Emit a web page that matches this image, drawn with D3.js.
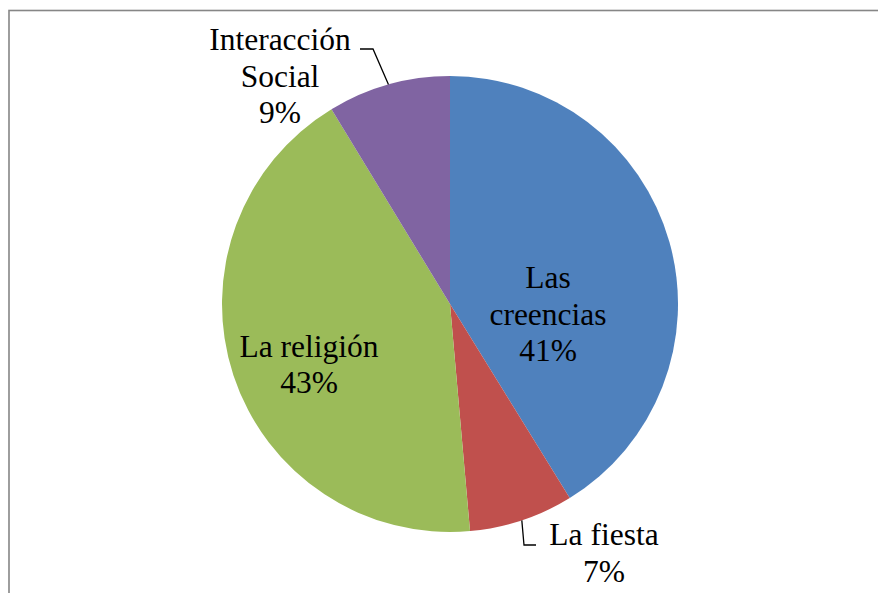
<!DOCTYPE html>
<html>
<head>
<meta charset="utf-8">
<script src="https://cdn.jsdelivr.net/npm/d3@7"></script>
<style>
  body { margin: 0; background: #fff; }
</style>
</head>
<body>
<div id="viz"></div>
<script>
// slices, clockwise from 12 o'clock
const categories = ['Las creencias', 'La fiesta', 'La religión', 'Interacción Social'];
const values = [41.2, 7.4, 42.7, 8.7]; // percent
const colors = ['#4F81BD', '#C0504D', '#9BBB59', '#8064A2'];
// label text lines (percent appended below)
const labelLines = [['Las', 'creencias'], ['La fiesta'], ['La religión'], ['Interacción', 'Social']];

const W = 878, H = 593;
const cx = 450, cy = 304, r = 228;
const lh = 36.5; // line height of labels

window.onload = () => draw();

function draw() {
    const svg = d3.select('#viz').append('svg')
	.attr('width', W)
	.attr('height', H);

    // chart frame (runs off the right and bottom edges)
    svg.append('rect')
	.attr('x', 9)
	.attr('y', 10.5)
	.attr('width', 900)
	.attr('height', 620)
	.attr('fill', 'none')
	.attr('stroke', '#868686')
	.attr('stroke-width', 1.6);

    const pie = d3.pie().sort(null).value(d => d);
    const arcs = pie(values);
    const arc = d3.arc().innerRadius(0).outerRadius(r);
    const edge = d3.arc().innerRadius(r).outerRadius(r);

    const g = svg.append('g').attr('transform', `translate(${cx},${cy})`);

    g.selectAll('path.slice')
	.data(arcs)
	.enter()
	.append('path')
	.attr('class', 'slice')
	.attr('d', arc)
	.attr('fill', (d, i) => colors[i]);

    // label placement: [x, y of first baseline] relative to centre, and leader elbow if outside
    const place = [
	{x: 98, y: -16},
	{x: 154, y: 241, leader: [[86, 241], [74, 241]]},
	{x: -141, y: 52.5},
	{x: -170, y: -254, leader: [[-90, -255], [-77, -255]]}
    ];

    const total = d3.sum(values);

    arcs.forEach((d, i) => {
	const p = place[i];
	const lines = labelLines[i].concat([Math.round(d.data / total * 100) + '%']);
	const t = g.append('text')
	    .attr('text-anchor', 'middle')
	    .attr('font-family', "'Liberation Serif', 'Times New Roman', Tinos, 'DejaVu Serif', serif")
	    .attr('font-size', 31.5)
	    .attr('fill', '#000');
	lines.forEach((s, k) => {
	    t.append('tspan')
		.attr('x', p.x)
		.attr('y', p.y + k * lh)
		.text(s);
	});
	if (p.leader) {
	    const start = edge.centroid(d);
	    const pts = [p.leader[0], p.leader[1], start];
	    g.append('path')
		.attr('d', d3.line()(pts))
		.attr('fill', 'none')
		.attr('stroke', '#000')
		.attr('stroke-width', 1.3);
	}
    });
}
</script>
</body>
</html>
